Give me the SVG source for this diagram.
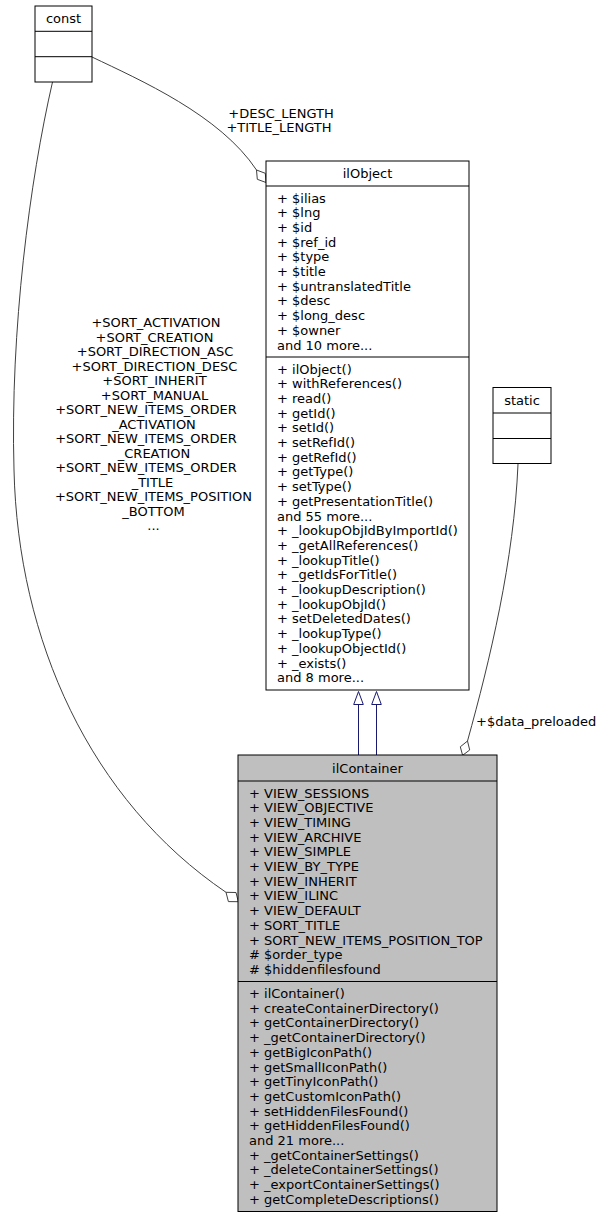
<svg xmlns="http://www.w3.org/2000/svg" width="604" height="1219" viewBox="0 0 604 1219">
<style>
text{font-family:"DejaVu Sans","Liberation Sans",sans-serif;font-size:13px;fill:#000}
.c{text-anchor:middle}
.box{fill:#fff;stroke:#000;stroke-width:1}
.cur{fill:#bfbfbf;stroke:#000;stroke-width:1}
.sep{stroke:#000;stroke-width:1}
.e{fill:none;stroke:#404040;stroke-width:1}
.dia{fill:#fff;stroke:#404040;stroke-width:1}
.inh{fill:none;stroke:#191970;stroke-width:1}
.tri{fill:#fff;stroke:#191970;stroke-width:1}
</style>
<rect width="604" height="1219" fill="#fff"/>
<g id="connectors">
  <path class="e" d="M92,57 C140,80 220,115 256.5,170"/>
  <polygon class="dia" points="256.5,170 265.3,173.3 266,182.5 257.3,179.3"/>
  <path class="e" d="M52.5,82 C30,180 10,330 14,470 C18,640 90,800 226,892.3"/>
  <polygon class="dia" points="226,892.3 236,892.5 238.3,901.7 228.4,901.6"/>
  <path class="e" d="M518,464 C514,560 490,660 467.5,741"/>
  <polygon class="dia" points="467.5,741 469.7,750 462.6,755.3 460.3,746.8"/>
  <path class="inh" d="M358.5,755 V704.5"/>
  <polygon class="tri" points="358.5,691.5 363.3,704.5 353.7,704.5"/>
  <path class="inh" d="M376.5,755 V704.5"/>
  <polygon class="tri" points="376.5,691.5 381.3,704.5 371.7,704.5"/>
  <text class="c" x="281" y="117.5">+DESC_LENGTH</text>
  <text class="c" x="279" y="132">+TITLE_LENGTH</text>
  <text class="c" x="156" y="327">+SORT_ACTIVATION</text>
  <text class="c" x="154.5" y="341.5">+SORT_CREATION</text>
  <text class="c" x="155" y="356">+SORT_DIRECTION_ASC</text>
  <text class="c" x="154.5" y="370.5">+SORT_DIRECTION_DESC</text>
  <text class="c" x="154.5" y="385">+SORT_INHERIT</text>
  <text class="c" x="154.5" y="399.5">+SORT_MANUAL</text>
  <text class="c" x="146" y="414">+SORT_NEW_ITEMS_ORDER</text>
  <text class="c" x="154" y="428.5">_ACTIVATION</text>
  <text class="c" x="146" y="443">+SORT_NEW_ITEMS_ORDER</text>
  <text class="c" x="154" y="457.5">_CREATION</text>
  <text class="c" x="146" y="472">+SORT_NEW_ITEMS_ORDER</text>
  <text class="c" x="152.5" y="486.5">_TITLE</text>
  <text class="c" x="153.5" y="501">+SORT_NEW_ITEMS_POSITION</text>
  <text class="c" x="153.5" y="515.5">_BOTTOM</text>
  <text class="c" x="153.5" y="530">...</text>
  <text x="476" y="726">+$data_preloaded</text>
</g>
<g id="const">
  <rect class="box" x="35" y="6" width="57" height="76"/>
  <line class="sep" x1="35" y1="31.3" x2="92" y2="31.3"/>
  <line class="sep" x1="35" y1="56.7" x2="92" y2="56.7"/>
  <text class="c" x="63.5" y="23">const</text>
</g>
<g id="static">
  <rect class="box" x="493" y="387.5" width="58" height="76"/>
  <line class="sep" x1="493" y1="413" x2="551" y2="413"/>
  <line class="sep" x1="493" y1="438.5" x2="551" y2="438.5"/>
  <text class="c" x="522" y="404.5">static</text>
</g>
<g id="ilObject">
  <rect class="box" x="266" y="161" width="203" height="529"/>
  <line class="sep" x1="266" y1="186" x2="469" y2="186"/>
  <line class="sep" x1="266" y1="357" x2="469" y2="357"/>
  <text class="c" x="367.5" y="178">ilObject</text>
  <text x="277" y="202.5">+ $ilias</text>
  <text x="277" y="217.2">+ $lng</text>
  <text x="277" y="231.9">+ $id</text>
  <text x="277" y="246.6">+ $ref_id</text>
  <text x="277" y="261.3">+ $type</text>
  <text x="277" y="276">+ $title</text>
  <text x="277" y="290.7">+ $untranslatedTitle</text>
  <text x="277" y="305.4">+ $desc</text>
  <text x="277" y="320.1">+ $long_desc</text>
  <text x="277" y="334.8">+ $owner</text>
  <text x="277" y="349.5">and 10 more...</text>
  <text x="277" y="373.5">+ ilObject()</text>
  <text x="277" y="388.2">+ withReferences()</text>
  <text x="277" y="402.9">+ read()</text>
  <text x="277" y="417.6">+ getId()</text>
  <text x="277" y="432.3">+ setId()</text>
  <text x="277" y="447">+ setRefId()</text>
  <text x="277" y="461.7">+ getRefId()</text>
  <text x="277" y="476.4">+ getType()</text>
  <text x="277" y="491.1">+ setType()</text>
  <text x="277" y="505.8">+ getPresentationTitle()</text>
  <text x="277" y="520.5">and 55 more...</text>
  <text x="277" y="535.2">+ _lookupObjIdByImportId()</text>
  <text x="277" y="549.9">+ _getAllReferences()</text>
  <text x="277" y="564.6">+ _lookupTitle()</text>
  <text x="277" y="579.3">+ _getIdsForTitle()</text>
  <text x="277" y="594">+ _lookupDescription()</text>
  <text x="277" y="608.7">+ _lookupObjId()</text>
  <text x="277" y="623.4">+ setDeletedDates()</text>
  <text x="277" y="638.1">+ _lookupType()</text>
  <text x="277" y="652.8">+ _lookupObjectId()</text>
  <text x="277" y="667.5">+ _exists()</text>
  <text x="277" y="682.2">and 8 more...</text>
</g>
<g id="ilContainer">
  <rect class="cur" x="238" y="755" width="259" height="456.5"/>
  <line class="sep" x1="238" y1="781" x2="497" y2="781"/>
  <line class="sep" x1="238" y1="981.5" x2="497" y2="981.5"/>
  <text class="c" x="367.5" y="772.5">ilContainer</text>
  <text x="249" y="797.5">+ VIEW_SESSIONS</text>
  <text x="249" y="812.2">+ VIEW_OBJECTIVE</text>
  <text x="249" y="826.9">+ VIEW_TIMING</text>
  <text x="249" y="841.6">+ VIEW_ARCHIVE</text>
  <text x="249" y="856.3">+ VIEW_SIMPLE</text>
  <text x="249" y="871">+ VIEW_BY_TYPE</text>
  <text x="249" y="885.7">+ VIEW_INHERIT</text>
  <text x="249" y="900.4">+ VIEW_ILINC</text>
  <text x="249" y="915.1">+ VIEW_DEFAULT</text>
  <text x="249" y="929.8">+ SORT_TITLE</text>
  <text x="249" y="944.5">+ SORT_NEW_ITEMS_POSITION_TOP</text>
  <text x="249" y="959.2"># $order_type</text>
  <text x="249" y="973.9"># $hiddenfilesfound</text>
  <text x="249" y="998">+ ilContainer()</text>
  <text x="249" y="1012.7">+ createContainerDirectory()</text>
  <text x="249" y="1027.4">+ getContainerDirectory()</text>
  <text x="249" y="1042.1">+ _getContainerDirectory()</text>
  <text x="249" y="1056.8">+ getBigIconPath()</text>
  <text x="249" y="1071.5">+ getSmallIconPath()</text>
  <text x="249" y="1086.2">+ getTinyIconPath()</text>
  <text x="249" y="1100.9">+ getCustomIconPath()</text>
  <text x="249" y="1115.6">+ setHiddenFilesFound()</text>
  <text x="249" y="1130.3">+ getHiddenFilesFound()</text>
  <text x="249" y="1145">and 21 more...</text>
  <text x="249" y="1159.7">+ _getContainerSettings()</text>
  <text x="249" y="1174.4">+ _deleteContainerSettings()</text>
  <text x="249" y="1189.1">+ _exportContainerSettings()</text>
  <text x="249" y="1203.8">+ getCompleteDescriptions()</text>
</g>
</svg>
